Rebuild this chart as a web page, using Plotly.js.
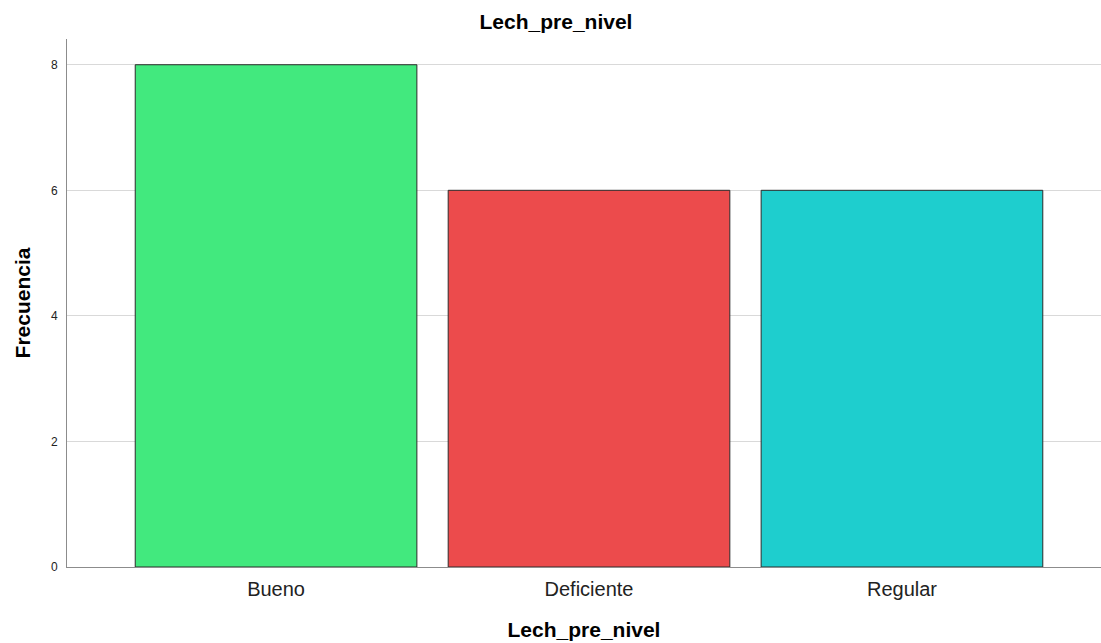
<!DOCTYPE html>
<html>
<head>
<meta charset="utf-8">
<script src="https://cdn.plot.ly/plotly-3.0.1.min.js"></script>
<style>html,body{margin:0;padding:0;background:#fff;}#chart{width:1101px;height:643px;}</style>
</head>
<body>
<div id="chart"></div>
<script>
const categories = ["Bueno", "Deficiente", "Regular"];
const frequencies = [8, 6, 6];
const barColors = ["#42E97E", "#EC4B4C", "#1ECECE"];
const yTicks = [0, 2, 4, 6, 8];

const trace = {
  type: "bar",
  x: categories,
  y: frequencies,
  marker: { color: barColors, line: { color: "#2b2b2b", width: 1 } },
  hoverinfo: "x+y"
};

const layout = {
  width: 1101,
  height: 643,
  margin: { l: 67, r: 0, t: 39, b: 76 },
  paper_bgcolor: "#ffffff",
  plot_bgcolor: "#ffffff",
  bargap: 0.1,
  showlegend: false,
  font: { family: "Liberation Sans, Arial, sans-serif", color: "#000" },
  title: {
    text: "<b>Lech_pre_nivel</b>",
    font: { size: 21, family: "Liberation Sans, Arial, sans-serif", color: "#000" },
    x: 0.505, xref: "container", xanchor: "center",
    y: 0.967, yref: "container", yanchor: "middle"
  },
  xaxis: {
    type: "category",
    range: [-0.668, 2.636],
    showgrid: false,
    showline: true,
    linecolor: "#8c8c8c",
    linewidth: 1,
    ticks: "",
    tickfont: { size: 20, color: "#222" },
    ticklabelstandoff: 4,
    zeroline: false,
    title: {
      text: "<b>Lech_pre_nivel</b>",
      font: { size: 21, color: "#000" },
      standoff: 23
    }
  },
  yaxis: {
    range: [0, 8.41],
    tickvals: yTicks,
    showgrid: true,
    gridcolor: "#d9d9d9",
    gridwidth: 1,
    showline: true,
    linecolor: "#8c8c8c",
    linewidth: 1,
    ticks: "",
    tickfont: { size: 12, color: "#222" },
    ticklabelstandoff: 6,
    zeroline: false,
    title: {
      text: "<b>Frecuencia</b>",
      font: { size: 21, color: "#000" },
      standoff: 14
    }
  }
};

Plotly.newPlot("chart", [trace], layout, { displayModeBar: false, staticPlot: true });
</script>
</body>
</html>
